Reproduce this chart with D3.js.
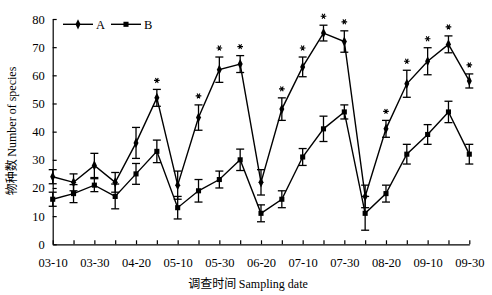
<!DOCTYPE html>
<html>
<head>
<script src="https://cdn.jsdelivr.net/npm/d3@7"></script>
<style>
html, body { margin: 0; padding: 0; background: #fff; }
#chart { width: 492px; height: 295px; }
</style>
</head>
<body>
<div id="chart"></div>
<script>
// sampling dates (every 10 days)
var dates = ["03-10","03-20","03-30","04-10","04-20","04-30","05-10","05-20","05-30","06-10",
             "06-20","06-30","07-10","07-20","07-30","08-10","08-20","08-30","09-10","09-20","09-30"];
var tickLabels = ["03-10","03-30","04-20","05-10","05-30","06-20","07-10","07-30","08-20","09-10","09-30"];

// series A (diamond) and B (square), mean and error
var seriesA = [24, 22, 28, 22, 36, 52, 21, 45, 62, 64, 22, 48, 63, 75, 72, 17, 41, 57, 65, 71, 58];
var errA    = [2.5, 3, 4.3, 3.5, 5.5, 3, 5, 4.5, 4.5, 3, 4.5, 4, 3.5, 2.8, 3.8, 4, 3, 4.8, 4.8, 3, 2.5];
var seriesB = [16, 18, 21, 17, 25, 33, 13, 19, 23, 30, 11, 16, 31, 41, 47, 11, 18, 32, 39, 47, 32];
var errB    = [2.5, 3.2, 2.3, 4.4, 3.7, 4, 4, 4, 3, 3.8, 3, 3, 3, 4.5, 2.5, 6, 3, 3.5, 3.5, 3.8, 3.5];
// dates where A differs significantly
var starDates = ["04-30","05-20","05-30","06-10","06-30","07-10","07-20","07-30","08-20","08-30","09-10","09-20","09-30"];

var yTicks = [0, 10, 20, 30, 40, 50, 60, 70, 80];

var serif = "'Liberation Serif', 'Times New Roman', serif";
var cjk = "'Noto Sans CJK SC', sans-serif";

var width = 492, height = 295;
var svg = d3.select("#chart").append("svg")
    .attr("width", width)
    .attr("height", height);

var x = d3.scalePoint().domain(dates).range([52.7, 469.3]).padding(0);
var y = d3.scaleLinear().domain([0, 80]).range([244.3, 19]);

// axes
var xAxis = svg.append("g")
    .attr("transform", "translate(0," + y(0) + ")")
    .call(d3.axisBottom(x).tickSizeInner(-4).tickSizeOuter(0)
        .tickFormat(function(d){ return tickLabels.indexOf(d) >= 0 ? d : ""; }));
xAxis.selectAll("text").attr("dy", "1.55em");

var yAxis = svg.append("g")
    .attr("transform", "translate(" + x(dates[0]) + ",0)")
    .call(d3.axisLeft(y).tickValues(yTicks).tickSizeInner(-4).tickSizeOuter(0));
yAxis.selectAll("text").attr("x", -8);

svg.selectAll(".tick text")
    .attr("font-family", serif)
    .attr("font-size", 12.5)
    .attr("fill", "#000");
svg.selectAll(".domain, .tick line").attr("stroke", "#000").attr("stroke-width", 1.2);

// titles
var xt = svg.append("text")
    .attr("x", 248).attr("y", 288)
    .attr("text-anchor", "middle")
    .attr("font-size", 12)
    .attr("fill", "#000");
xt.append("tspan").attr("font-family", cjk).text("调查时间 ");
xt.append("tspan").attr("font-family", serif).text("Sampling date");

var yt = svg.append("text")
    .attr("transform", "translate(16,131) rotate(-90)")
    .attr("text-anchor", "middle")
    .attr("font-size", 12)
    .attr("fill", "#000");
yt.append("tspan").attr("font-family", cjk).text("物种数 ");
yt.append("tspan").attr("font-family", serif).text("Number of species");

var line = d3.line()
    .x(function(d, i){ return x(dates[i]); })
    .y(function(d){ return y(d); });

function drawSeries(vals, errs, shape) {
    var g = svg.append("g");
    // error bars
    var eb = g.selectAll(".err").data(vals).enter().append("g");
    eb.append("line")
        .attr("x1", function(d, i){ return x(dates[i]); })
        .attr("x2", function(d, i){ return x(dates[i]); })
        .attr("y1", function(d, i){ return y(d + errs[i]); })
        .attr("y2", function(d, i){ return y(d - errs[i]); });
    eb.append("line")
        .attr("x1", function(d, i){ return x(dates[i]) - 4; })
        .attr("x2", function(d, i){ return x(dates[i]) + 4; })
        .attr("y1", function(d, i){ return y(d + errs[i]); })
        .attr("y2", function(d, i){ return y(d + errs[i]); });
    eb.append("line")
        .attr("x1", function(d, i){ return x(dates[i]) - 4; })
        .attr("x2", function(d, i){ return x(dates[i]) + 4; })
        .attr("y1", function(d, i){ return y(d - errs[i]); })
        .attr("y2", function(d, i){ return y(d - errs[i]); });
    eb.selectAll("line").attr("stroke", "#000").attr("stroke-width", 1.3);

    g.append("path").datum(vals)
        .attr("d", line)
        .attr("fill", "none")
        .attr("stroke", "#000")
        .attr("stroke-width", 1.4);

    g.selectAll(".pt").data(vals).enter().append("path")
        .attr("d", d3.symbol().type(shape).size(shape === d3.symbolSquare ? 26 : 30))
        .attr("transform", function(d, i){
            return "translate(" + x(dates[i]) + "," + y(d) + ")" + (shape === d3.symbolDiamond ? " scale(0.85,1)" : "");
        })
        .attr("fill", "#000");
}

drawSeries(seriesB, errB, d3.symbolSquare);
drawSeries(seriesA, errA, d3.symbolDiamond);

// significance stars above A
svg.selectAll(".star").data(starDates).enter().append("path")
    .attr("d", d3.symbol().type(d3.symbolAsterisk).size(22))
    .attr("transform", function(d){
        var i = dates.indexOf(d);
        return "translate(" + x(d) + "," + (y(seriesA[i] + errA[i]) - 9) + ") rotate(90)";
    })
    .attr("fill", "none")
    .attr("stroke", "#000")
    .attr("stroke-width", 1.1);

// legend
var leg = svg.append("g");
var legItems = [{name: "A", shape: d3.symbolDiamond, x0: 63}, {name: "B", shape: d3.symbolSquare, x0: 111}];
legItems.forEach(function(it){
    leg.append("line")
        .attr("x1", it.x0).attr("x2", it.x0 + 30)
        .attr("y1", 24.3).attr("y2", 24.3)
        .attr("stroke", "#000").attr("stroke-width", 1.4);
    leg.append("path")
        .attr("d", d3.symbol().type(it.shape).size(it.shape === d3.symbolSquare ? 26 : 30))
        .attr("transform", "translate(" + (it.x0 + 15) + ",24.3)" + (it.shape === d3.symbolDiamond ? " scale(0.85,1)" : ""))
        .attr("fill", "#000");
    leg.append("text")
        .attr("x", it.x0 + 33).attr("y", 28.5)
        .attr("font-family", serif)
        .attr("font-size", 12.5)
        .attr("fill", "#000")
        .text(it.name);
});
</script>
</body>
</html>
